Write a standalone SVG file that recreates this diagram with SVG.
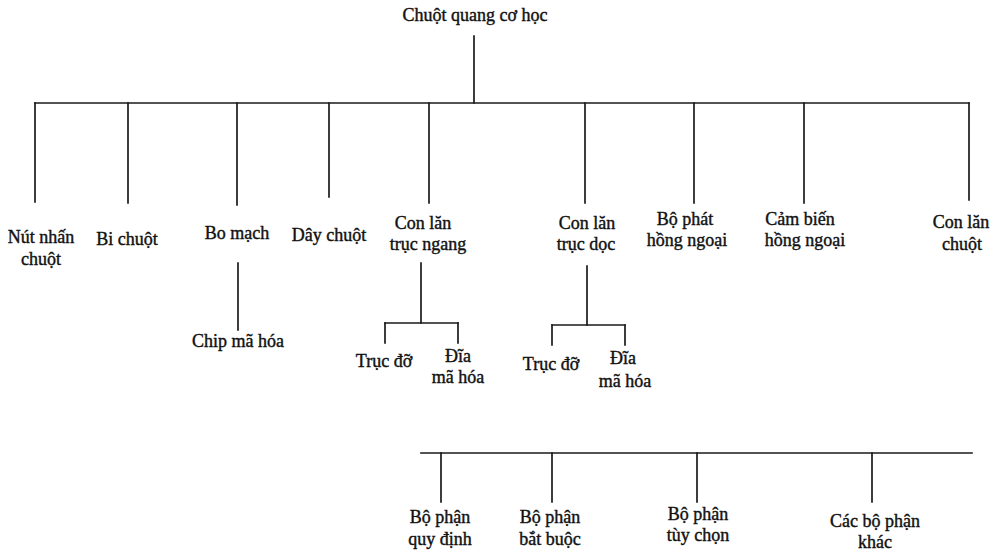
<svg xmlns="http://www.w3.org/2000/svg" width="996" height="554" viewBox="0 0 996 554">
<style>
text{font-family:"Liberation Serif","Times New Roman",serif;font-size:18px;fill:#111;stroke:#111;stroke-width:0.4;text-anchor:middle}
.c line{stroke:#1a1a1a;stroke-width:1.7;stroke-linecap:square}
</style>
<rect width="996" height="554" fill="#fff"/>
<g class="c" id="connectors">
<line x1="474" y1="36" x2="474" y2="103"/>
<line x1="35" y1="103" x2="969" y2="103"/>
<line x1="35" y1="103" x2="35" y2="202"/>
<line x1="128" y1="103" x2="128" y2="203"/>
<line x1="237" y1="103" x2="237" y2="205"/>
<line x1="329" y1="103" x2="329" y2="197"/>
<line x1="429" y1="103" x2="429" y2="203"/>
<line x1="585" y1="103" x2="585" y2="203"/>
<line x1="694" y1="103" x2="694" y2="203"/>
<line x1="804" y1="103" x2="804" y2="203"/>
<line x1="969" y1="103" x2="969" y2="200"/>
<line x1="238" y1="263" x2="238" y2="330"/>
<line x1="421" y1="263" x2="421" y2="323"/>
<line x1="385" y1="323" x2="458" y2="323"/>
<line x1="385" y1="323" x2="385" y2="343"/>
<line x1="458" y1="323" x2="458" y2="343"/>
<line x1="587" y1="266" x2="587" y2="325"/>
<line x1="552" y1="325" x2="625" y2="325"/>
<line x1="552" y1="325" x2="552" y2="345"/>
<line x1="625" y1="325" x2="625" y2="345"/>
<line x1="421" y1="453" x2="972" y2="453"/>
<line x1="441" y1="453" x2="441" y2="502"/>
<line x1="552" y1="453" x2="552" y2="502"/>
<line x1="697" y1="453" x2="697" y2="502"/>
<line x1="872" y1="453" x2="872" y2="502"/>
</g>
<g id="root"><text x="475" y="21">Chuột quang cơ học</text></g>
<g id="nut-nhan"><text x="41" y="243">Nút nhấn</text><text x="41" y="265">chuột</text></g>
<g id="bi-chuot"><text x="127" y="245">Bi chuột</text></g>
<g id="bo-mach"><text x="237" y="239">Bo mạch</text></g>
<g id="chip"><text x="238" y="347">Chip mã hóa</text></g>
<g id="day-chuot"><text x="329" y="241">Dây chuột</text></g>
<g id="con-lan-ngang"><text x="423" y="229">Con lăn</text><text x="428" y="250">trục ngang</text></g>
<g id="truc-do-1"><text x="384" y="367">Trục đỡ</text></g>
<g id="dia-1"><text x="458" y="362">Đĩa</text><text x="458" y="383">mã hóa</text></g>
<g id="con-lan-doc"><text x="587" y="229">Con lăn</text><text x="586" y="250">trục dọc</text></g>
<g id="truc-do-2"><text x="551" y="370">Trục đỡ</text></g>
<g id="dia-2"><text x="623" y="364">Đĩa</text><text x="625" y="387">mã hóa</text></g>
<g id="bo-phat"><text x="685" y="225">Bộ phát</text><text x="687" y="246">hồng ngoại</text></g>
<g id="cam-bien"><text x="800" y="225">Cảm biến</text><text x="805" y="246">hồng ngoại</text></g>
<g id="con-lan-chuot"><text x="961" y="228">Con lăn</text><text x="962" y="250">chuột</text></g>
<g id="bp-quy-dinh"><text x="440" y="523">Bộ phận</text><text x="440" y="545">quy định</text></g>
<g id="bp-bat-buoc"><text x="550" y="523">Bộ phận</text><text x="550" y="545">bắt buộc</text></g>
<g id="bp-tuy-chon"><text x="698" y="520">Bộ phận</text><text x="698" y="541">tùy chọn</text></g>
<g id="bp-khac"><text x="875" y="527">Các bộ phận</text><text x="875" y="548">khác</text></g>
</svg>
